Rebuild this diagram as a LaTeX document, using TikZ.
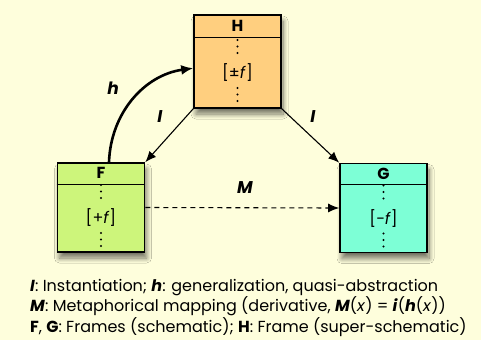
\documentclass[tikz,border=0pt]{standalone}
\usepackage{fontspec}
\setmainfont{Poppins}
\usetikzlibrary{arrows.meta,shadows,shadows.blur,calc}
\definecolor{bgc}{HTML}{FEFEDC}
\definecolor{hcol}{HTML}{FFCF7F}
\definecolor{fcol}{HTML}{CDF57B}
\definecolor{gcol}{HTML}{7DFFD6}
\tikzset{
  frame/.style={draw=black, line width=1.6pt, rectangle, inner sep=0pt,
    minimum width=87pt, minimum height=89pt,
    blur shadow={shadow xshift=2pt, shadow yshift=-6pt, shadow blur radius=5pt, shadow opacity=55, shadow blur steps=10}},
  ttl/.style={font=\bfseries\fontsize{16}{16}\selectfont, inner sep=0pt},
  cnt/.style={font=\fontsize{16}{16}\selectfont, inner sep=0pt},
  lbl/.style={font=\bfseries\itshape\fontsize{17}{17}\selectfont, inner sep=0pt},
  arr/.style={-{Latex[length=11pt,width=9pt]}, line width=1.1pt},
  dotc/.style={fill=black, circle, inner sep=0pt, minimum size=2.2pt},
  legend/.style={font=\fontsize{16}{20.5}\selectfont, align=left, anchor=north west, inner sep=0pt}
}
\newcommand{\framedots}[2]{%
  \foreach \dy in {-33,-26.5,-20,15,21.5,28} {\node[dotc] at ($(#1)+(0,\dy)$) {};}
}
\begin{document}
\begin{tikzpicture}[x=1pt,y=-1pt]
\fill[bgc] (0,0) rectangle (481,340);
\useasboundingbox (0,0) rectangle (481,340);

\node[frame, fill=hcol, minimum height=93pt] (H) at (237.5,61.5) {};
\node[frame, fill=fcol] (F) at (101,207.5) {};
\node[frame, fill=gcol] (G) at (383.5,208) {};

\draw[line width=1.3pt] ([yshift=-23pt]H.north west) -- ([yshift=-23pt]H.north east);
\draw[line width=1.3pt] ([yshift=-22pt]F.north west) -- ([yshift=-22pt]F.north east);
\draw[line width=1.3pt] ([yshift=-22pt]G.north west) -- ([yshift=-22pt]G.north east);

\node[ttl] (Ht) at ([yshift=-11.5pt]H.north) {H};
\node[ttl] (Ft) at ([yshift=-11pt]F.north) {F};
\node[ttl] (Gt) at ([yshift=-11pt]G.north) {G};

\coordinate (Hc) at (237.5,73);
\coordinate (Fc) at (101,218);
\coordinate (Gc) at (383.5,218.5);
\node[cnt] (Hx) at (Hc) {[±\textit{f}]};
\node[cnt] (Fx) at (Fc) {[+\textit{f}]};
\node[cnt] (Gx) at (Gc) {[−\textit{f}]};
\framedots{Hc}{}
\framedots{Fc}{}
\framedots{Gc}{}

\draw[arr] (H.south west) -- (F.north east);
\draw[arr] (H.south east) -- (G.north west);
\draw[arr, dashed, dash pattern=on 5pt off 4pt] (F.east) -- (G.west);
\draw[-{Latex[length=12pt,width=10pt]}, line width=2.6pt] ([xshift=8pt]F.north) to[out=88,in=188] ([yshift=-54pt]H.north west);

\node[lbl] (lI1) at (160,117) {I};
\node[lbl] (lI2) at (313,117) {I};
\node[lbl] (lh) at (113,88) {h};
\node[lbl] (lM) at (245,188) {M};

\node[legend] (leg) at (30,279) {%
\textbf{\textit{I}}: Instantiation; \textbf{\textit{h}}: generalization, quasi-abstraction\\
\textbf{\textit{M}}: Metaphorical mapping (derivative, \textbf{\textit{M}}(\textit{x}) = \textbf{\textit{i}}(\textbf{\textit{h}}(\textit{x}))\\
\textbf{F}, \textbf{G}: Frames (schematic); \textbf{H}: Frame (super-schematic)};
\end{tikzpicture}
\end{document}
